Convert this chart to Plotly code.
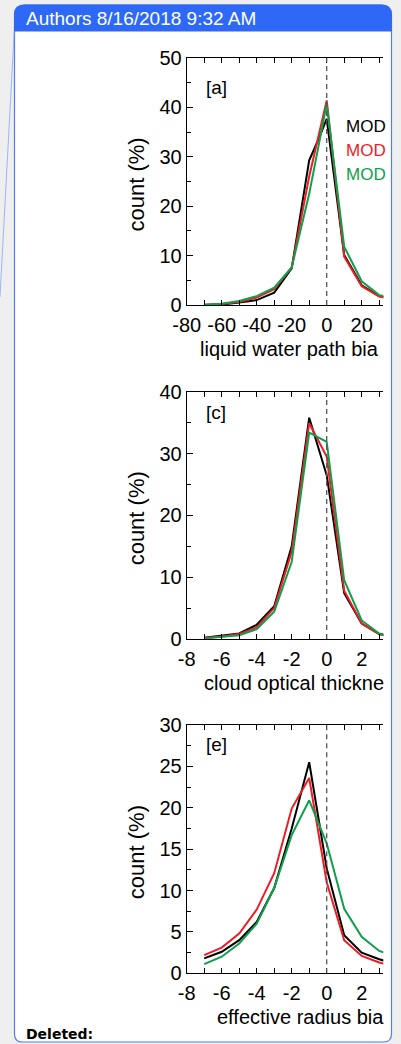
import plotly.graph_objects as go

# ---------------- data ----------------
# panel [a] liquid water path bias
A_X = [-70, -60, -50, -40, -30, -20, -10, 0, 10, 20, 30, 40]
A_BLACK_X = [-70, -60, -50, -40, -30, -20, -10, -5, 0, 10, 20, 30, 40]
A_BLACK = [0.0, 0.1, 0.5, 1.0, 2.5, 7.4, 29.3, 33.3, 37.7, 10.1, 4.0, 1.8, 1.2]
A_RED = [0.05, 0.2, 0.6, 1.5, 3.2, 7.6, 26.0, 41.4, 9.8, 3.8, 1.7, 1.1]
A_GREEN = [0.05, 0.25, 0.8, 1.8, 3.5, 7.6, 22.5, 40.7, 11.8, 4.8, 2.0, 1.3]
A_XTICKS = [-80, -60, -40, -20, 0, 20]
A_YTICKS = [0, 10, 20, 30, 40, 50]

# panel [c] cloud optical thickness bias
C_X = [-7, -6, -5, -4, -3, -2, -1, 0, 1, 2, 3, 4]
C_BLACK = [0.2, 0.5, 0.9, 2.3, 5.3, 15.0, 35.8, 26.5, 7.4, 2.5, 0.8, 0.3]
C_RED = [0.15, 0.4, 0.8, 1.9, 5.0, 14.1, 34.9, 29.5, 7.8, 2.5, 0.8, 0.3]
C_GREEN = [0.1, 0.3, 0.6, 1.6, 4.4, 12.5, 33.4, 31.9, 9.5, 3.0, 0.9, 0.4]
C_XTICKS = [-8, -6, -4, -2, 0, 2]
C_YTICKS = [0, 10, 20, 30, 40]

# panel [e] effective radius bias
E_X = [-7, -6, -5, -4, -3, -2, -1, 0, 1, 2, 3, 4]
E_BLACK = [1.8, 2.6, 4.0, 6.2, 10.3, 17.5, 25.5, 12.7, 4.6, 2.5, 1.7, 1.1]
E_RED = [2.2, 3.1, 4.8, 7.7, 12.1, 19.9, 23.6, 11.0, 4.0, 2.1, 1.3, 0.8]
E_GREEN = [1.1, 2.0, 3.6, 6.0, 10.3, 16.7, 20.9, 15.7, 7.8, 4.4, 2.7, 2.0]
E_XTICKS = [-8, -6, -4, -2, 0, 2]
E_YTICKS = [0, 5, 10, 15, 20, 25, 30]

SERIES_NAMES = ["MOD", "MOD", "MOD"]
PANEL_LABELS = ["[a]", "[c]", "[e]"]
X_TITLES = ["liquid water path bia", "cloud optical thickne", "effective radius bia"]
Y_TITLE = "count (%)"
HEADER = "Authors 8/16/2018 9:32 AM"
FOOTER = "Deleted:"

# ---------------- layout helpers ----------------
W, H = 401, 1044
def fx(p):
    return p / W
def fy(p):
    return 1 - p / H

BLACK, RED, GREEN = "#000000", "#EE1D25", "#0E9F4C"
FONT = "Liberation Sans, Arial, sans-serif"
TICKFONT = dict(family=FONT, size=20, color="black")

X_LEFT, X_RIGHT = 186.7, 383.3

panels = [
    dict(top=58, bottom=305, xr=[-80, -80 + (X_RIGHT - X_LEFT) / 1.75], ymax=50,
         xt=A_XTICKS, yt=A_YTICKS, xminor=10, yminor=5,
         series=[(A_BLACK_X, A_BLACK, BLACK), (A_X, A_RED, RED), (A_X, A_GREEN, GREEN)],
         lab_y=87, title_x=198, legend=True),
    dict(top=391.7, bottom=639, xr=[-8, -8 + (X_RIGHT - X_LEFT) / 17.5], ymax=40,
         xt=C_XTICKS, yt=C_YTICKS, xminor=1, yminor=5,
         series=[(C_X, C_BLACK, BLACK), (C_X, C_RED, RED), (C_X, C_GREEN, GREEN)],
         lab_y=412, title_x=202, legend=False),
    dict(top=725, bottom=973.3, xr=[-8, -8 + (X_RIGHT - X_LEFT) / 17.5], ymax=30,
         xt=E_XTICKS, yt=E_YTICKS, xminor=1, yminor=2.5,
         series=[(E_X, E_BLACK, BLACK), (E_X, E_RED, RED), (E_X, E_GREEN, GREEN)],
         lab_y=744, title_x=215, legend=False),
]

fig = go.Figure()
layout = dict(
    width=W, height=H, margin=dict(l=0, r=0, t=0, b=0, autoexpand=False),
    paper_bgcolor="#EFEFEF", plot_bgcolor="rgba(0,0,0,0)",
    showlegend=False, font=dict(family=FONT, color="black"),
)
annotations = []
shapes = []

def rrect(x0, y0, x1, y1, rt, rb):
    P = lambda x, y: f"{fx(x):.5f},{fy(y):.5f}"
    return (f"M {P(x0, y0 + rt)} Q {P(x0, y0)} {P(x0 + rt, y0)} L {P(x1 - rt, y0)} "
            f"Q {P(x1, y0)} {P(x1, y0 + rt)} L {P(x1, y1 - rb)} Q {P(x1, y1)} {P(x1 - rb, y1)} "
            f"L {P(x0 + rb, y1)} Q {P(x0, y1)} {P(x0, y1 - rb)} Z")

def header_path(x0, y0, x1, y1, r):
    P = lambda x, y: f"{fx(x):.5f},{fy(y):.5f}"
    return (f"M {P(x0, y1)} L {P(x0, y0 + r)} Q {P(x0, y0)} {P(x0 + r, y0)} L {P(x1 - r, y0)} "
            f"Q {P(x1, y0)} {P(x1, y0 + r)} L {P(x1, y1)} Z")

# balloon frame
shapes.append(dict(type="path", xref="paper", yref="paper", layer="below",
                   path=rrect(14.5, 5, 391.5, 1042, 10, 8),
                   fillcolor="white", line=dict(color="#4F7FF7", width=1.2)))
shapes.append(dict(type="path", xref="paper", yref="paper", layer="below",
                   path=header_path(14.5, 5, 391.5, 31, 10),
                   fillcolor="#2E68F7", line=dict(color="#2E68F7", width=1)))
shapes.append(dict(type="line", xref="paper", yref="paper", layer="below",
                   x0=fx(14.3), y0=fy(30), x1=fx(0), y1=fy(297),
                   line=dict(color="rgba(90,135,250,0.55)", width=1)))

annotations.append(dict(text=HEADER, xref="paper", yref="paper", x=fx(24), y=fy(18),
                        xanchor="left", yanchor="middle", showarrow=False,
                        font=dict(family=FONT, size=19, color="white")))
annotations.append(dict(text=f"<b>{FOOTER}</b>", xref="paper", yref="paper", x=fx(24), y=fy(1034),
                        xanchor="left", yanchor="middle", showarrow=False,
                        font=dict(family="DejaVu Sans, Verdana, sans-serif", size=14, color="black")))

for i, p in enumerate(panels):
    n = "" if i == 0 else str(i + 1)
    xa, ya = "x" + n, "y" + n
    for xs, ys, col in p["series"]:
        fig.add_trace(go.Scatter(x=xs, y=ys, mode="lines", xaxis=xa, yaxis=ya,
                                 line=dict(color=col, width=2), hoverinfo="skip"))
    layout["xaxis" + n] = dict(
        domain=[fx(X_LEFT), fx(X_RIGHT)], range=p["xr"], anchor=ya, automargin=False,
        tickmode="array", tickvals=p["xt"], ticktext=[str(v) for v in p["xt"]],
        ticks="inside", ticklen=5, tickwidth=1, tickcolor="black",
        minor=dict(ticks="inside", tickmode="linear", tick0=0, dtick=p["xminor"],
                   ticklen=5, tickwidth=1, tickcolor="black"),
        showline=True, linecolor="black", linewidth=1, mirror="ticks",
        showgrid=False, zeroline=False, tickfont=TICKFONT, fixedrange=True,
        ticklabelstandoff=2,
    )
    layout["yaxis" + n] = dict(
        domain=[fy(p["bottom"]), fy(p["top"])], range=[0, p["ymax"]], anchor=xa, automargin=False,
        tickmode="array", tickvals=p["yt"], ticktext=[str(v) for v in p["yt"]],
        ticks="inside", ticklen=6, tickwidth=1, tickcolor="black",
        minor=dict(ticks="inside", tickmode="linear", tick0=0, dtick=p["yminor"],
                   ticklen=4, tickwidth=1, tickcolor="black"),
        showline=True, linecolor="black", linewidth=1, mirror=False,
        showgrid=False, zeroline=False, tickfont=TICKFONT, fixedrange=True,
    )
    shapes.append(dict(type="line", xref=xa, yref=ya + " domain", x0=0, x1=0, y0=0, y1=1,
                       line=dict(color="#555555", width=1.3, dash="5px,4px")))
    annotations.append(dict(text=PANEL_LABELS[i], xref="paper", yref="paper",
                            x=fx(204), y=fy(p["lab_y"]), xanchor="left", yanchor="middle",
                            showarrow=False, font=dict(family=FONT, size=19, color="black")))
    annotations.append(dict(text=Y_TITLE, xref="paper", yref="paper", textangle=-90,
                            x=fx(136), y=fy((p["top"] + p["bottom"]) / 2 + 3),
                            xanchor="center", yanchor="middle", showarrow=False,
                            font=dict(family=FONT, size=22, color="black")))
    annotations.append(dict(text=X_TITLES[i], xref="paper", yref="paper",
                            x=fx(p["title_x"]), y=fy(p["bottom"] + 43.5),
                            xanchor="left", yanchor="middle", showarrow=False,
                            font=dict(family=FONT, size=20, color="black")))
    if p["legend"]:
        for j, (name, col) in enumerate(zip(SERIES_NAMES, [BLACK, RED, GREEN])):
            annotations.append(dict(text=name, xref="paper", yref="paper",
                                    x=fx(344), y=fy(126 + 24.5 * j), xanchor="left",
                                    yanchor="middle", showarrow=False,
                                    font=dict(family=FONT, size=17, color=col)))

layout["annotations"] = annotations
layout["shapes"] = shapes
fig.update_layout(**layout)

fig.write_html("out.html", config={"displayModeBar": False},
               post_script="document.body.style.margin='0';document.body.style.overflow='hidden';")
